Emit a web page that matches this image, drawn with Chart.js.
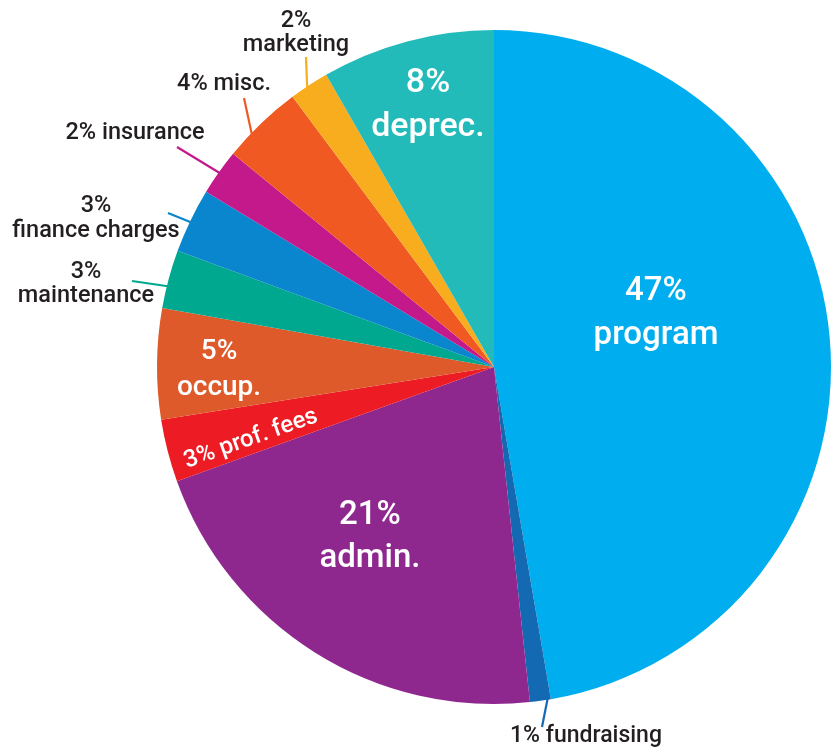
<!DOCTYPE html>
<html>
<head>
<meta charset="utf-8">
<script src="https://cdn.jsdelivr.net/npm/chart.js@4/dist/chart.umd.min.js"></script>
<style>
  html, body { margin: 0; padding: 0; background: #ffffff; }
  #wrap { width: 838px; height: 750px; }
</style>
</head>
<body>
<div id="wrap"><canvas id="c" width="838" height="750"></canvas></div>
<script>
// ---- data (clockwise from 12 o'clock) ----
const categories = ['program', 'fundraising', 'admin.', 'prof. fees', 'occup.', 'maintenance',
                    'finance charges', 'insurance', 'misc.', 'marketing', 'deprec.'];
const shares = [47.3, 1.0, 21.2, 3.0, 5.3, 2.8, 3.1, 2.2, 3.9, 1.9, 8.3];
const percentLabels = ['47%', '1%', '21%', '3%', '5%', '3%', '3%', '2%', '4%', '2%', '8%'];

// ---- styles ----
const sliceColors = ['#00AEEF', '#1469B3', '#8E288F', '#ED1C24', '#DE5A2B', '#00A88F',
                     '#0A86CE', '#C4198B', '#F05A22', '#F7AD1E', '#22BBBA'];
const FONT = 'Roboto, "Open Sans", sans-serif';
const DARK = '#231F20';

// label layout: per slice; inside labels white, outside labels dark with leader line
// lines: [text template, dx, dy] relative to anchor; '{p}' = percent, '{c}' = category
const labelStyle = [
  { anchor: [656, 0], inside: true, size: 33, lines: [['{p}', 0, 292], ['{c}', 0, 336]] },
  { anchor: [586, 0], size: 23, lines: [['{p} {c}', 0, 736]], lead: { frac: 0.15, to: [542, 727] } },
  { anchor: [370, 0], inside: true, size: 33, lines: [['{p}', 0, 516], ['{c}', 0, 559]] },
  { anchor: [251, 439], inside: true, size: 24, rotate: -19.5, lines: [['{p} {c}', 0, 0]] },
  { anchor: [219, 0], inside: true, size: 28, lines: [['{p}', 0, 352], ['{c}', 0, 388]] },
  { anchor: [86, 0], size: 23.5, lines: [['{p}', 0, 272], ['{c}', 0, 296]], lead: { frac: 0.38, to: [132, 281] } },
  { anchor: [96, 0], size: 23.5, lines: [['{p}', 0, 206], ['{c}', 0, 231]], lead: { frac: 0.48, to: [168, 213] } },
  { anchor: [135, 0], size: 23.5, lines: [['{p} {c}', 0, 133]], lead: { frac: 0.5, to: [177, 147] } },
  { anchor: [224, 0], size: 23.5, lines: [['{p} {c}', 0, 84]], lead: { frac: 0.33, to: [244, 98] } },
  { anchor: [296, 0], size: 23.5, lines: [['{p}', 0, 21], ['{c}', 0, 45]], lead: { frac: 0.43, to: [306, 57] } },
  { anchor: [428, 0], inside: true, size: 34, lines: [['{p}', 0, 83], ['{c}', 0, 127]] }
];

const labelPlugin = {
  id: 'sliceLabels',
  afterDatasetsDraw(chart) {
    const ctx = chart.ctx;
    const meta = chart.getDatasetMeta(0);
    meta.data.forEach((arc, i) => {
      const st = labelStyle[i];
      if (!st) return;
      const pr = arc.getProps(['x', 'y', 'startAngle', 'endAngle', 'outerRadius'], true);
      // leader line
      if (st.lead) {
        const a = pr.startAngle + st.lead.frac * (pr.endAngle - pr.startAngle);
        const ex = pr.x + (pr.outerRadius - 1) * Math.cos(a);
        const ey = pr.y + (pr.outerRadius - 1) * Math.sin(a);
        ctx.save();
        ctx.strokeStyle = sliceColors[i];
        ctx.lineWidth = 2.2;
        ctx.beginPath();
        ctx.moveTo(st.lead.to[0], st.lead.to[1]);
        ctx.lineTo(ex, ey);
        ctx.stroke();
        ctx.restore();
      }
      ctx.save();
      ctx.fillStyle = st.inside ? '#ffffff' : DARK;
      ctx.font = '500 ' + st.size + 'px ' + FONT;
      ctx.textAlign = 'center';
      ctx.textBaseline = 'middle';
      ctx.translate(st.anchor[0], st.anchor[1]);
      if (st.rotate) ctx.rotate(st.rotate * Math.PI / 180);
      st.lines.forEach(l => {
        const txt = l[0].replace('{p}', percentLabels[i]).replace('{c}', categories[i]);
        ctx.fillText(txt, l[1], l[2]);
      });
      ctx.restore();
    });
  }
};

new Chart(document.getElementById('c'), {
  type: 'pie',
  data: {
    labels: categories,
    datasets: [{
      data: shares,
      backgroundColor: sliceColors,
      borderWidth: 0,
      hoverOffset: 0
    }]
  },
  options: {
    responsive: false,
    animation: false,
    devicePixelRatio: 1,
    layout: { padding: { left: 157, right: 7, top: 30, bottom: 46 } },
    plugins: { legend: { display: false }, tooltip: { enabled: false } }
  },
  plugins: [labelPlugin]
});
</script>
</body>
</html>
